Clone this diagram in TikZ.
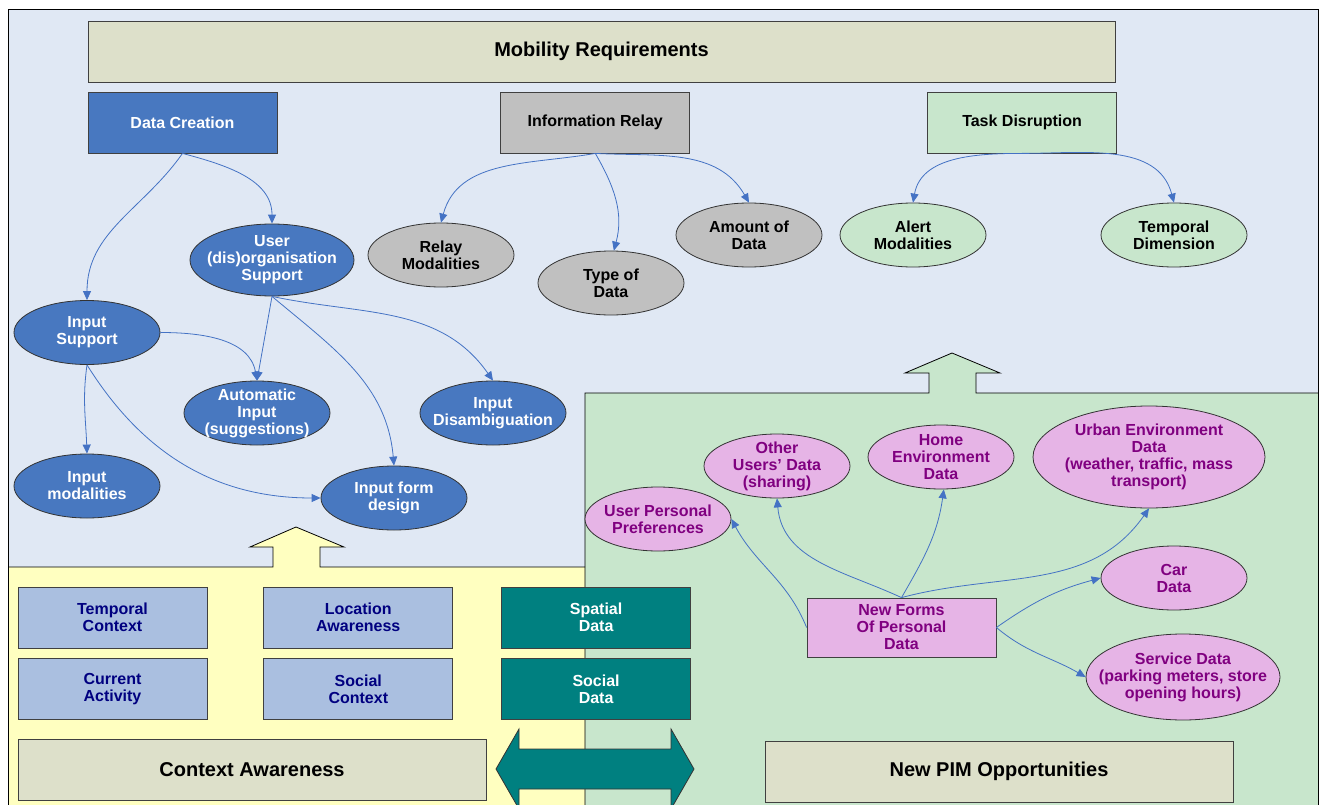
\documentclass[tikz,border=0pt]{standalone}
\usepackage{fontspec}
\setmainfont{Liberation Sans}
\usetikzlibrary{positioning,shapes.geometric,arrows.meta}
\definecolor{bgblue}{HTML}{E0E8F4}
\definecolor{regyellow}{HTML}{FFFFC0}
\definecolor{reggreen}{HTML}{C8E6CC}
\definecolor{titlefill}{HTML}{DDE0CA}
\definecolor{nodeblue}{HTML}{4878C0}
\definecolor{nodegray}{HTML}{C0C0C0}
\definecolor{lightbox}{HTML}{AABFE0}
\definecolor{tealbox}{HTML}{008080}
\definecolor{pinkfill}{HTML}{E6B4E6}
\definecolor{pinktext}{HTML}{800080}
\definecolor{navytext}{HTML}{000080}
\definecolor{linkblue}{HTML}{4472C4}

\begin{document}
\begin{tikzpicture}[x=1pt,y=1pt,
  font=\bfseries\fontsize{16}{17}\selectfont,
  box/.style={draw=black!75,line width=0.8pt,minimum width=189pt,minimum height=61pt,align=center,inner sep=0pt},
  oval/.style={ellipse,draw=black!80,line width=0.8pt,minimum width=146pt,minimum height=64pt,align=center,inner sep=-20pt},
  title/.style={box,fill=titlefill,font=\bfseries\fontsize{20}{22}\selectfont},
  link/.style={draw=linkblue,line width=0.8pt,-{Triangle[length=9pt,width=8pt]}}]
 \useasboundingbox (0,0) rectangle (1319,-805);
 \clip (0,0) rectangle (1319,-805);
 \fill[bgblue] (8,-9) rectangle (1319,-805);
 \fill[reggreen] (585,-805) -- (585,-393) -- (929,-393) -- (929,-373) -- (905,-373) -- (952,-353) -- (1000,-373) -- (976,-373) -- (976,-393) -- (1319,-393) -- (1319,-805) -- cycle;
 \fill[regyellow] (8,-805) -- (8,-567) -- (273,-567) -- (273,-547) -- (250,-547) -- (296,-527) -- (344,-547) -- (320,-547) -- (320,-567) -- (585,-567) -- (585,-805) -- cycle;
 \draw[line width=0.8pt] (585,-806) -- (585,-393) -- (929,-393) -- (929,-373) -- (905,-373) -- (952,-353) -- (1000,-373) -- (976,-373) -- (976,-393) -- (1319,-393);
 \draw[line width=0.8pt] (8,-567) -- (273,-567) -- (273,-547) -- (250,-547) -- (296,-527) -- (344,-547) -- (320,-547) -- (320,-567) -- (585,-567);
 \draw[line width=0.8pt] (8,-806) -- (8,-9) -- (1318.5,-9) -- (1318.5,-806);

 \node[title,minimum width=1027pt] (mr) at (601.5,-51.5) {Mobility Requirements};
 \node[box,fill=nodeblue,text=white] (dc) at (182.5,-122.5) {Data Creation};
 \node[box,fill=nodegray,right=223pt of dc] (ir) {Information Relay};
 \node[box,fill=reggreen,right=237pt of ir] (td) {Task Disruption};

 \node[oval,fill=nodeblue,text=white,minimum width=164pt,minimum height=72pt] (us) at (272,-260) {User\\(dis)organisation\\Support};
 \node[oval,fill=nodeblue,text=white] (is) at (87,-332.5) {Input\\Support};
 \node[oval,fill=nodeblue,text=white] (ai) at (257,-413) {Automatic\\Input\\(suggestions)};
 \node[oval,fill=nodeblue,text=white] (idis) at (493,-413) {Input\\Disambiguation};
 \node[oval,fill=nodeblue,text=white] (im) at (87,-486) {Input\\modalities};
 \node[oval,fill=nodeblue,text=white] (ifd) at (394,-498) {Input form\\design};
 \node[oval,fill=nodegray] (rm) at (441,-255) {Relay\\Modalities};
 \node[oval,fill=nodegray] (tod) at (611,-283) {Type of\\Data};
 \node[oval,fill=nodegray] (aod) at (749,-235) {Amount of\\Data};
 \node[oval,fill=reggreen] (am) at (913,-235) {Alert\\Modalities};
 \node[oval,fill=reggreen] (tdim) at (1174,-235) {Temporal\\Dimension};

 \node[box,fill=lightbox,text=navytext] (tc) at (112.5,-617.5) {Temporal\\Context};
 \node[box,fill=lightbox,text=navytext,right=56pt of tc] (la) {Location\\Awareness};
 \node[box,fill=tealbox,text=white,right=48pt of la] (spd) {Spatial\\Data};
 \node[box,fill=lightbox,text=navytext,below=10pt of tc] (ca) {Current\\Activity};
 \node[box,fill=lightbox,text=navytext,below=10pt of la] (sc) {Social\\Context};
 \node[box,fill=tealbox,text=white,below=10pt of spd] (sod) {Social\\Data};
 \node[title,minimum width=468pt] (cx) at (252,-769.5) {Context Awareness};
 \node[title,minimum width=468pt] (npim) at (999,-771.5) {New PIM Opportunities};

 \node[box,fill=pinkfill,text=pinktext,minimum height=59pt] (nf) at (901.5,-627.5) {New Forms\\Of Personal\\Data};
 \node[oval,fill=pinkfill,text=pinktext] (upp) at (658,-519) {User Personal\\Preferences};
 \node[oval,fill=pinkfill,text=pinktext] (ou) at (777,-466) {Other\\Users’ Data\\(sharing)};
 \node[oval,fill=pinkfill,text=pinktext] (he) at (941,-457) {Home\\Environment\\Data};
 \node[oval,fill=pinkfill,text=pinktext,minimum width=232pt,minimum height=102pt] (ue) at (1149,-457) {Urban Environment\\Data\\(weather, traffic, mass\\transport)};
 \node[oval,fill=pinkfill,text=pinktext] (car) at (1174,-578) {Car\\Data};
 \node[oval,fill=pinkfill,text=pinktext,minimum width=194pt,minimum height=86pt] (sd) at (1183,-677) {Service Data\\(parking meters, store\\opening hours)};

 \draw[fill=tealbox,draw=black!80,line width=0.8pt] (496,-769) -- (519,-729) -- (519,-749) -- (671,-749) -- (671,-729) -- (694,-769) -- (671,-809) -- (671,-789) -- (519,-789) -- (519,-809) -- cycle;

 \draw[link] (dc.south) to[out=-125,in=90] (is.north);
 \draw[link] (dc.south) to[out=-15,in=90] (us.north);
 \draw[link] (us.south) -- (ai.north);
 \draw[link] (us.south) to[out=-40,in=95] (ifd.north);
 \draw[link] (us.south) to[out=-12,in=125] (idis.north);
 \draw[link] (is.east) to[out=0,in=100] (ai.north);
 \draw[link] (is.south) to[out=-98,in=92] (im.north);
 \draw[link] (is.south) to[out=-58,in=180] (ifd.west);
 \draw[link] (ir.south) to[out=190,in=75] (rm.north);
 \draw[link] (ir.south) to[out=-60,in=75] (tod.85);
 \draw[link] (ir.south) to[out=-3,in=120] (aod.north);
 \draw[link] (td.south) to[out=180,in=80] (am.north);
 \draw[link] (td.south) to[out=0,in=105] (tdim.north);
 \draw[link] (nf.west) to[out=112,in=-62] (upp.east);
 \draw[link] (nf.north) to[out=155,in=-85] (ou.south);
 \draw[link] (nf.north) to[out=60,in=-98] (he.-85);
 \draw[link] (nf.north) to[out=15,in=-125] (ue.south);
 \draw[link] (nf.east) to[out=35,in=195] (car.west);
 \draw[link] (nf.east) to[out=-40,in=150] (sd.west);
\end{tikzpicture}
\end{document}
